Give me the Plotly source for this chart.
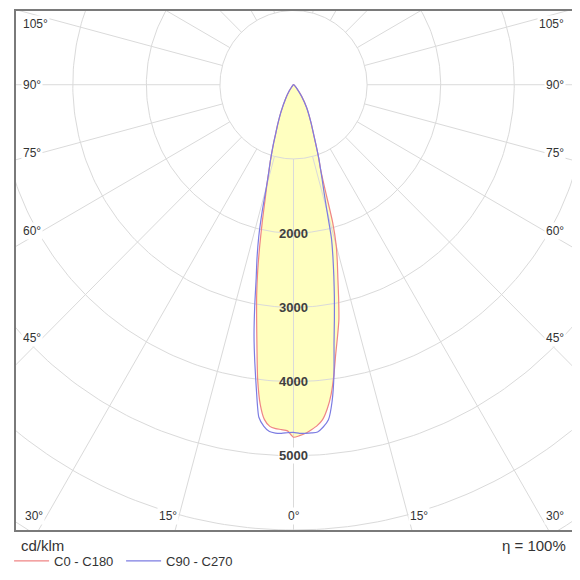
import numpy as np
import plotly.graph_objects as go

# Luminous intensity (cd/klm), per gamma angle (deg)
gamma = [0, 1, 2, 3, 4, 5, 6, 7, 8, 9, 10, 11, 12, 13, 14, 15, 16, 17, 18, 19, 20, 22, 25, 30, 35, 40, 50]
c0 = [4750, 4730, 4700, 4655, 4605, 4530, 4390, 4200, 3945, 3670, 3445, 3230, 2950, 2680, 2460, 2240,
      1930, 1430, 1180, 1060, 940, 740, 560, 360, 200, 90, 0]
c180 = [4750, 4665, 4650, 4640, 4615, 4530, 4330, 4000, 3570, 3205, 2885, 2550, 2200, 1880, 1600, 1400,
        1215, 1080, 950, 830, 720, 570, 400, 210, 100, 40, 0]
c90 = [4685, 4698, 4700, 4698, 4690, 4630, 4540, 4300, 3950, 3520, 3200, 2910, 2635, 2380, 2130, 1750,
       1500, 1330, 1180, 1060, 940, 740, 560, 355, 190, 85, 0]
c270 = [4685, 4690, 4700, 4700, 4685, 4620, 4505, 4140, 3780, 3430, 3040, 2660, 2385, 2100, 1760, 1420,
        1215, 1080, 950, 830, 720, 570, 400, 210, 100, 40, 0]

ring_values = [1000, 2000, 3000, 4000, 5000, 6000, 7000]
ring_labels = [2000, 3000, 4000, 5000]
side_angles = [45, 60, 75, 90, 105]
bottom_angles = [0, 15, 30]
eta = "η = 100%"
unit = "cd/klm"

# Geometry, in pixels of the 580x580 picture (page body adds an 8px margin)
OFF = 8
W = H = 580 - OFF
PX = 0.0745  # pixels per cd/klm
CX, CY = 290 - OFF, 83 - OFF  # pole position in figure pixels
LEFT, RIGHT, TOP, BOTTOM = 1, 574 - OFF, 1, 530 - OFF

FONT = "Liberation Sans, Arial, sans-serif"
TXT = "#333333"
GRID = "#dadada"
RED = "#ef8585"
BLUE = "#7c7ce2"
FILL = "#ffffc0"


def px_to_x(px):
    return (px - CX) / PX


def px_to_y(py):
    return (CY - py) / PX


def paper_x(px):
    return (px - LEFT) / (RIGHT - LEFT)


def paper_y(py):
    return (BOTTOM - py) / (BOTTOM - TOP)


def half_curve(values, side):
    g = np.radians(gamma)
    v = np.asarray(values, dtype=float)
    return side * v * np.sin(g), -v * np.cos(g)


def full_curve(left, right):
    xl, yl = half_curve(left, -1)
    xr, yr = half_curve(right, 1)
    return np.concatenate([xl[::-1], xr[1:]]), np.concatenate([yl[::-1], yr[1:]])


fig = go.Figure()

x_red, y_red = full_curve(c180, c0)
x_blue, y_blue = full_curve(c270, c90)

# Yellow fill of the C0 - C180 curve
fig.add_trace(go.Scatter(x=x_red, y=y_red, mode="lines", fill="toself", fillcolor=FILL,
                         line=dict(width=0, color=FILL, shape="spline", smoothing=0.6),
                         showlegend=False, hoverinfo="skip"))

# Polar grid: rings and spokes
theta = np.radians(np.linspace(0, 360, 361))
for r in ring_values:
    fig.add_trace(go.Scatter(x=r * np.sin(theta), y=-r * np.cos(theta), mode="lines",
                             line=dict(color=GRID, width=1), showlegend=False, hoverinfo="skip"))
for a in range(0, 360, 15):
    t = np.radians(a)
    rr = np.array([ring_values[0], 9000])
    fig.add_trace(go.Scatter(x=rr * np.sin(t), y=-rr * np.cos(t), mode="lines",
                             line=dict(color=GRID, width=1), showlegend=False, hoverinfo="skip"))

# Curves
fig.add_trace(go.Scatter(x=x_red, y=y_red, mode="lines", name="C0 - C180",
                         line=dict(color=RED, width=1.2, shape="spline", smoothing=0.6)))
fig.add_trace(go.Scatter(x=x_blue, y=y_blue, mode="lines", name="C90 - C270",
                         line=dict(color=BLUE, width=1.2, shape="spline", smoothing=0.6)))

# Ring value labels
for v in ring_labels:
    inside = v < 4700
    fig.add_annotation(x=0, y=-v, text=f"<b>{v}</b>", showarrow=False,
                       font=dict(family=FONT, size=13, color="#404040"),
                       bgcolor="rgba(0,0,0,0)" if inside else "white", borderpad=0)

# Angle labels on the left / right edges
for a in side_angles:
    dx = CX - (LEFT + 27)
    py = CY + dx / np.tan(np.radians(a))
    py = max(py, 14)
    for px, anchor in [(14 - OFF, "left"), (566 - OFF, "right")]:
        fig.add_annotation(x=px_to_x(px), y=px_to_y(py), text=f"{a}°", showarrow=False,
                           xanchor=anchor, font=dict(family=FONT, size=12, color=TXT),
                           bgcolor="white", borderpad=1)

# Angle labels along the bottom edge
for a in bottom_angles:
    dx = (BOTTOM - CY) * np.tan(np.radians(a))
    off = 7 if a else 0
    sides = [1] if a == 0 else [-1, 1]
    for s in sides:
        px = CX + s * (dx + off)
        px = min(max(px, LEFT + 18), RIGHT - 18)
        fig.add_annotation(x=px_to_x(px), y=px_to_y(516 - OFF), text=f"{a}°", showarrow=False,
                           font=dict(family=FONT, size=12, color=TXT),
                           bgcolor="white", borderpad=1)

# Footer texts
fig.add_annotation(xref="paper", yref="paper", x=paper_x(12 - OFF), y=paper_y(546 - OFF),
                   text=unit, showarrow=False, xanchor="left", yanchor="middle",
                   font=dict(family=FONT, size=15, color=TXT))
fig.add_annotation(xref="paper", yref="paper", x=paper_x(568 - OFF), y=paper_y(546 - OFF),
                   text=eta, showarrow=False, xanchor="right", yanchor="middle",
                   font=dict(family=FONT, size=15, color=TXT))

fig.update_xaxes(range=[px_to_x(LEFT), px_to_x(RIGHT)], showgrid=False, zeroline=False,
                 showticklabels=False, ticks="", showline=True, mirror=True,
                 linecolor="#7a7a7a", linewidth=1.5, fixedrange=True)
fig.update_yaxes(range=[px_to_y(BOTTOM), px_to_y(TOP)], showgrid=False, zeroline=False,
                 showticklabels=False, ticks="", showline=True, mirror=True,
                 linecolor="#7a7a7a", linewidth=1.5, fixedrange=True)

fig.update_layout(
    width=W,
    height=H,
    margin=dict(l=LEFT, r=W - RIGHT, t=TOP, b=H - BOTTOM),
    paper_bgcolor="white",
    plot_bgcolor="white",
    font=dict(family=FONT, color=TXT),
    showlegend=True,
    legend=dict(orientation="h", x=paper_x(2 - OFF), xanchor="left", y=paper_y(561 - OFF), yanchor="middle",
                font=dict(family=FONT, size=13, color=TXT), itemwidth=35,
                entrywidth=62, entrywidthmode="pixels", bgcolor="rgba(0,0,0,0)"),
)

fig.write_html("out.html")
